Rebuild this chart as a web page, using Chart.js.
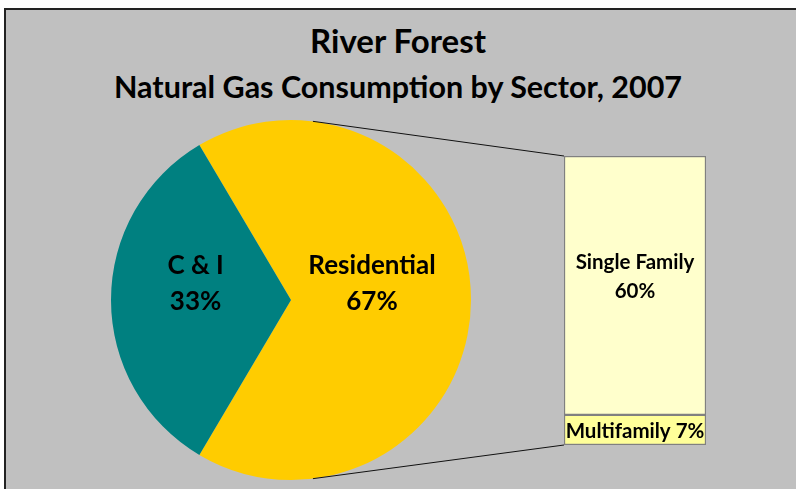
<!DOCTYPE html>
<html>
<head>
<meta charset="utf-8">
<script src="https://cdn.jsdelivr.net/npm/chart.js@4.4.0/dist/chart.umd.min.js"></script>
<style>
  html, body { margin: 0; padding: 0; background: #fff; overflow: hidden; }
  #frame {
    position: absolute; left: 4px; top: 8px; width: 800px; height: 490px;
    background: #c0c0c0; border-top: 2px solid #222; border-left: 2px solid #222;
  }
  .title {
    position: absolute; left: 0; width: 796px; text-align: center;
    font-family: Lato, "Open Sans", sans-serif; font-weight: bold; color: #000;
    line-height: 1;
  }
  canvas { position: absolute; }
</style>
</head>
<body>
<div id="frame"></div>
<div class="title" style="top:24px;font-size:33px">River Forest</div>
<div class="title" style="top:71px;font-size:30.5px">Natural Gas Consumption by Sector, 2007</div>
<canvas id="pie" style="left:0;top:0" width="796" height="489"></canvas>
<canvas id="bar" style="left:554px;top:146px" width="162" height="309"></canvas>
<script>
const sectors = ['Residential', 'C & I'];
const sectorShare = [67, 33];
const sectorColors = ['#ffcc00', '#008080'];

const residentialParts = ['Single Family', 'Multifamily'];
const residentialShare = [60, 7];
const partColors = ['#ffffcc', '#ffff99'];

const labelFont = 'bold 26px Lato, "Open Sans", sans-serif';
const barFont = 'bold 20.5px Lato, "Open Sans", sans-serif';
const labelRadius = [0.45, 0.53];

let barChart = undefined;

// slice labels + the two lines joining the pie to the bar
const pieExtras = {
    id: 'pieExtras',
    afterDraw(chart) {
        const ctx = chart.ctx;
        const arcs = chart.getDatasetMeta(0).data;
        ctx.save();
        ctx.fillStyle = '#000';
        ctx.font = labelFont;
        ctx.textAlign = 'center';
        arcs.forEach((arc, i) => {
            const mid = (arc.startAngle + arc.endAngle) / 2;
            const x = arc.x + Math.cos(mid) * arc.outerRadius * labelRadius[i];
            const y = arc.y + Math.sin(mid) * arc.outerRadius * labelRadius[i];
            ctx.fillText(sectors[i], x, y - 26);
            ctx.fillText(sectorShare[i] + '%', x, y + 10);
        });
        if (barChart) {
            const a = arcs[0];
            const low = barChart.getDatasetMeta(0).data[0];
            const high = barChart.getDatasetMeta(1).data[0];
            const box = barChart.canvas.getBoundingClientRect();
            const bx = box.left + high.x - high.width / 2;
            const top = box.top + high.y;
            const bottom = box.top + low.base;
            const ang = 83 * Math.PI / 180;
            ctx.strokeStyle = '#111';
            ctx.lineWidth = 1;
            ctx.beginPath();
            ctx.moveTo(a.x + a.outerRadius * Math.cos(ang), a.y - a.outerRadius * Math.sin(ang));
            ctx.lineTo(bx, top);
            ctx.moveTo(a.x + a.outerRadius * Math.cos(ang), a.y + a.outerRadius * Math.sin(ang));
            ctx.lineTo(bx, bottom);
            ctx.stroke();
        }
        ctx.restore();
    }
};

const pieChart = new Chart(document.getElementById('pie'), {
    type: 'pie',
    data: {
        labels: sectors,
        datasets: [{
            data: sectorShare,
            backgroundColor: sectorColors,
            borderWidth: 0
        }]
    },
    options: {
        responsive: false,
        animation: false,
        rotation: -30.6,
        layout: { padding: { left: 111, right: 325, top: 120, bottom: 9 } },
        plugins: { legend: { display: false }, tooltip: { enabled: false } }
    },
    plugins: [pieExtras]
});

// stacked from the bottom: Multifamily first, Single Family above it
barChart = new Chart(document.getElementById('bar'), {
    type: 'bar',
    data: {
        labels: ['Residential'],
        datasets: [
            { label: residentialParts[1], data: [residentialShare[1]], backgroundColor: partColors[1],
              borderColor: '#808080', borderWidth: 1.5, borderSkipped: false },
            { label: residentialParts[0], data: [residentialShare[0]], backgroundColor: partColors[0],
              borderColor: '#808080', borderWidth: 1.5, borderSkipped: false }
        ]
    },
    options: {
        responsive: false,
        animation: false,
        layout: { padding: 10 },
        datasets: { bar: { barPercentage: 1, categoryPercentage: 1 } },
        scales: {
            x: { stacked: true, display: false },
            y: { stacked: true, display: false, min: 0, max: 67 }
        },
        plugins: { legend: { display: false }, tooltip: { enabled: false } }
    },
    plugins: [{
        id: 'barLabels',
        afterDraw(chart) {
            // dataset 0 is Multifamily (bottom), dataset 1 is Single Family (top)
            const ctx = chart.ctx;
            ctx.save();
            ctx.fillStyle = '#000';
            ctx.font = barFont;
            ctx.textAlign = 'center';
            const multi = chart.getDatasetMeta(0).data[0];
            const single = chart.getDatasetMeta(1).data[0];
            const midS = (single.y + single.base) / 2;
            ctx.fillText(residentialParts[0], single.x, midS - 16);
            ctx.fillText(residentialShare[0] + '%', single.x, midS + 13);
            ctx.textBaseline = 'middle';
            ctx.fillText(residentialParts[1] + ' ' + residentialShare[1] + '%', multi.x, (multi.y + multi.base) / 2 + 1);
            ctx.restore();
        }
    }]
});

pieChart.update();
</script>
</body>
</html>
